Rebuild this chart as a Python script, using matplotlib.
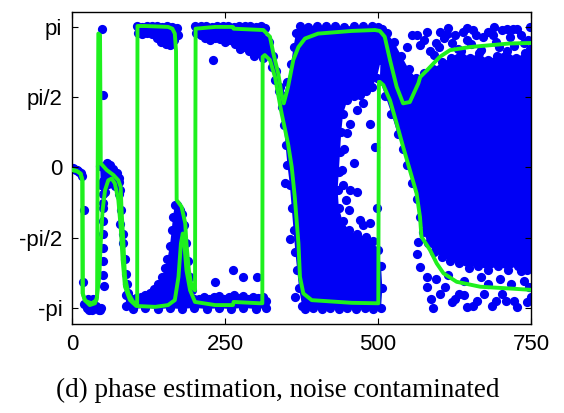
import numpy as np
import matplotlib
matplotlib.use("Agg")
import matplotlib.pyplot as plt

# ---- estimated phase tracks ----
est_a_t = [0, 7.6, 14, 17, 17.5, 21, 29, 37.6, 41, 43, 45.8, 47, 56.7, 67.5, 75.7, 79.5,
           81, 84, 86.6, 92, 100, 106.5, 107, 119, 157, 164, 168, 170, 171, 179, 185, 187,
           191, 195.5, 201, 202, 234, 263, 264, 312.6, 323.5, 329, 337, 342.6, 346, 353,
           361.6, 370, 380.7, 402, 457, 495, 503, 511, 519.6, 530.5, 541, 552, 566, 569,
           580, 601, 617.6, 650, 683, 716, 750]
est_a_y = [-0.06, -0.08, -0.14, -0.29, -2.82, -2.97, -3.08, -3.04, -2.90, 2.99, 2.96, 0.09,
           -0.06, -0.17, -0.29, -0.44, -0.96, -1.70, -2.45, -2.82, -3.01, -3.05, 3.16, 3.16,
           3.14, 3.10, 2.99, 2.60, -0.73, -0.88, -1.25, -1.70, -2.30, -2.67, -2.75, 3.10,
           3.14, 3.14, 3.10, 3.07, 2.92, 2.55, 2.10, 1.62, 1.43, 1.80, 2.40, 2.69, 2.88,
           2.99, 3.05, 3.07, 3.05, 2.92, 2.40, 1.80, 1.43, 1.46, 1.88, 2.02, 2.17, 2.47,
           2.62, 2.69, 2.73, 2.77, 2.78]

est_b_t = [0, 7.6, 14, 17, 17.5, 21, 24, 32, 40, 44.6, 46.9, 50, 54, 59.3, 64.8, 70, 75.7,
           79.5, 82.8, 86.6, 94.8, 105, 136, 157, 168, 174, 178, 181, 183.5, 187, 193, 201,
           234, 263, 264, 307, 311, 311.5, 315, 323.5, 331.7, 342.6, 353, 359, 364, 370,
           372.5, 378, 391.7, 457, 500.5, 501.5, 503, 508.7, 519.6, 530.5, 541, 552, 563,
           568.6, 571, 585, 596, 607, 628.6, 667, 716, 750]
est_b_y = [-0.06, -0.08, -0.14, -0.29, -2.82, -2.97, -3.0, -3.04, -2.97, -2.45, -1.70,
           -0.96, -0.51, -0.29, -0.25, -0.36, -0.73, -1.33, -2.08, -2.67, -2.97, -3.10,
           -3.12, -3.08, -2.97, -2.45, -1.70, -1.48, -1.70, -2.30, -2.75, -3.01, -3.08,
           -3.08, -3.01, -3.04, -3.04, 2.47, 2.51, 2.40, 2.02, 1.20, 0.53, 0.01, -0.66,
           -1.70, -2.45, -2.82, -2.97, -3.03, -3.04, 1.91, 1.91, 1.84, 1.50, 0.98, 0.46,
           -0.06, -0.58, -1.11, -1.55, -1.85, -2.15, -2.37, -2.56, -2.67, -2.71, -2.74]

# ---- dense clouds of noisy samples: outlines (t, phase) ----
cloud_hump_t = [46, 52, 58, 64, 70, 76, 79, 76, 71, 65, 59, 54, 50, 47]
cloud_hump_y = [0.02, -0.02, -0.06, -0.12, -0.2, -0.32, -0.5, -0.6, -0.42, -0.35, -0.38,
                -0.55, -0.8, -0.4]

cloud_top1_t = [107, 115, 123, 131, 139, 147, 155, 163, 171, 173, 166, 160, 153, 146,
                139, 131, 123, 115, 108]
cloud_top1_y = [3.16, 3.14, 3.17, 3.15, 3.16, 3.14, 3.17, 3.14, 3.12, 2.95, 2.85, 2.75,
                2.75, 2.8, 2.9, 2.98, 3.0, 2.98, 3.0]

cloud_top2_t = [201, 210, 219, 228, 237, 246, 255, 264, 273, 282, 291, 300, 309, 316,
                318, 312, 305, 298, 290, 282, 274, 266, 258, 250, 242, 234, 226, 218, 210,
                203]
cloud_top2_y = [3.16, 3.15, 3.17, 3.14, 3.16, 3.15, 3.17, 3.14, 3.16, 3.15, 3.17, 3.14,
                3.16, 3.12, 2.65, 2.45, 2.55, 2.5, 2.6, 2.7, 2.65, 2.75, 2.85, 2.8, 2.88,
                2.9, 2.85, 2.9, 2.95, 3.0]

cloud_bot1_t = [88, 96, 104, 112, 120, 127, 134, 141, 147, 152, 156, 160, 163, 165, 168,
                172, 176, 180, 183, 186, 189, 192, 196, 200, 208, 216, 224, 232, 240, 248,
                256, 264, 272, 280, 288, 296, 304, 312, 317, 317, 300, 280, 260, 240, 220,
                200, 180, 160, 140, 120, 100, 88]
cloud_bot1_y = [-2.85, -2.95, -2.92, -2.9, -2.85, -2.8, -2.72, -2.62, -2.45, -2.25, -2.05,
                -1.75, -1.4, -1.1, -0.85, -0.85, -0.95, -1.05, -1.3, -1.7, -2.1, -2.45,
                -2.75, -2.95, -2.95, -2.9, -2.95, -2.9, -2.88, -2.95, -2.9, -2.85, -2.92,
                -2.88, -2.95, -2.9, -2.92, -2.9, -3.0, -3.15, -3.17, -3.14, -3.17, -3.15,
                -3.17, -3.14, -3.17, -3.15, -3.17, -3.14, -3.17, -3.1]

cloud_mid_t = [372, 385, 400, 415, 430, 445, 460, 475, 490, 500, 506,
               508, 505, 498, 490, 480, 470, 460, 450, 443, 440, 438, 436, 434, 436, 442,
               452, 466, 480, 492, 500, 505, 507, 505,
               492, 478, 464, 450, 436, 422, 408, 394, 380,
               376, 371, 368, 365, 362, 359, 356, 352, 349, 346, 343, 338, 332, 326, 320,
               316, 322, 328, 334, 340, 346, 352, 358, 362, 366]
cloud_mid_y = [3.16, 3.14, 3.17, 3.15, 3.16, 3.14, 3.17, 3.15, 3.16, 3.14, 3.05,
               2.8, 2.4, 2.0, 1.8, 1.7, 1.62, 1.6, 1.5, 1.2, 0.8, 0.35, -0.1, -0.5, -0.9,
               -1.2, -1.4, -1.5, -1.55, -1.65, -1.85, -2.2, -2.7, -3.15,
               -3.17, -3.14, -3.17, -3.15, -3.17, -3.14, -3.17, -3.15, -3.16,
               -3.1, -2.7, -2.3, -1.9, -1.4, -0.9, -0.4, 0.05, 0.5, 0.95, 1.35, 1.7, 1.95,
               2.25, 2.55, 2.85, 2.8, 2.5, 2.15, 1.8, 1.6, 1.9, 2.3, 2.7, 3.0]

cloud_right_t = [503, 512, 522, 532, 541, 548, 556, 563, 568, 574, 582, 592, 604, 618,
                 632, 648, 664, 680, 696, 712, 728, 744, 750, 750, 740, 725, 710, 695,
                 680, 665, 650, 635, 620, 605, 590, 575, 562, 550, 538, 526, 515, 506]
cloud_right_y = [1.95, 1.6, 1.2, 0.75, 0.4, 0.05, -0.35, -0.7, -1.1, -1.45, -1.7, -1.9,
                 -2.0, -2.1, -2.15, -2.25, -2.2, -2.3, -2.2, -2.3, -2.2, -2.3, -2.25,
                 2.6, 2.55, 2.45, 2.6, 2.5, 2.4, 2.55, 2.45, 2.6, 2.45, 2.35, 2.2, 2.1,
                 2.0, 2.2, 2.5, 2.8, 3.0, 3.1]

# ---- isolated samples ----
dots_t = [0, 2, 4, 6, 8, 10, 12, 14, 16, 19, 18.5, 20, 24, 28, 32, 36, 40, 44, 26, 34,
          48.5, 50, 50, 50, 51, 51, 51, 51, 51, 51, 52, 47, 45,
          56.7, 62, 67.5, 73, 77, 80, 79, 84, 83, 86, 88.5, 90, 92, 97,
          231, 263.6, 233.7, 301.8, 280, 155, 160,
          449, 454.6, 465.5, 476, 487, 445, 441, 443, 448, 455, 466, 452, 470.6, 487,
          476, 460, 495, 498, 356, 364, 348,
          563, 580, 601, 613, 639, 656, 680, 703, 727, 749, 569, 595, 592, 621, 645, 671,
          692, 715, 738, 548, 556, 575, 585, 600, 608, 625, 630, 652, 660, 668, 688, 698,
          710, 722, 734, 745, 748, 615, 645, 690, 720,
          566, 563, 569, 580, 580, 586, 601, 621, 645, 662, 686, 709, 727, 744, 747, 733,
          610, 633, 674, 703, 595, 615, 625, 640, 655, 668, 680, 692, 700, 718, 722, 738,
          750, 590, 640]
dots_y = [-0.03, -0.02, -0.04, -0.05, -0.06, -0.08, -0.1, -0.13, -0.2, -0.96, -2.56,
          -3.05, -3.15, -3.2, -3.18, -3.15, -3.1, -3.2, -2.95, -2.95,
          3.1, 1.61, -0.3, -0.6, -0.9, -1.2, -1.5, -1.8, -2.1, -2.4, -2.65, -3.15, -3.2,
          0.09, 0.05, -0.03, -0.13, -0.24, -0.96, -1.26, -1.48, -1.7, -2.04, -2.38, -2.6,
          -2.82, -2.97,
          2.40, -2.30, -2.56, -2.45, -2.45, 2.77, 2.73,
          0.76, 0.98, 1.28, 1.43, 0.98, 0.4, -0.06, -0.4, -0.73, -0.5, -0.55, -0.96,
          -1.18, -1.25, -1.3, 0.1, 0.45, -0.9, -1.6, -2.9, -0.35,
          2.96, 3.03, 3.03, 2.99, 3.03, 3.07, 3.03, 3.07, 3.10, 3.14, 2.73, 2.77, 2.51,
          2.77, 2.84, 2.92, 2.81, 2.92, 2.77, 2.7, 2.95, 2.85, 2.6, 2.7, 2.9, 2.95, 2.65,
          2.75, 2.95, 2.62, 2.95, 2.7, 3.1, 2.72, 2.95, 2.85, 2.65, 3.12, 3.12, 3.14, 3.1,
          -1.67, -1.93, -2.23, -2.46, -2.68, -2.94, -2.83, -3.01, -3.13, -2.98, -3.09,
          -2.98, -3.13, -3.01, -2.68, -2.31, -2.68, -2.83, -2.83, -2.83, -2.5, -2.4,
          -2.95, -2.55, -3.1, -2.45, -2.6, -3.0, -2.5, -2.6, -3.0, -2.55, -2.9, -3.15,
          -2.85]

clouds = [(cloud_hump_t, cloud_hump_y), (cloud_top1_t, cloud_top1_y),
          (cloud_top2_t, cloud_top2_y), (cloud_bot1_t, cloud_bot1_y),
          (cloud_mid_t, cloud_mid_y), (cloud_right_t, cloud_right_y)]

x_ticks = [0, 250, 500, 750]
y_ticks = [-np.pi, -np.pi / 2, 0, np.pi / 2, np.pi]
y_labels = ['-pi', '-pi/2', '0', 'pi/2', 'pi']

blue = '#0000f5'
green = '#1ef01e'
dot_size = 44

fig = plt.figure(figsize=(5.64, 4.13), dpi=100)
ax = fig.add_axes([72 / 564, 1 - 324.3 / 413, (531 - 72) / 564, (324.3 - 11.7) / 413])

# dense regions: filled outline plus a dot at every outline vertex
for ct, cy in clouds:
    ax.fill(ct, cy, color=blue, lw=0, zorder=1)
    ax.scatter(ct, cy, s=dot_size, color=blue, lw=0, zorder=1)
ax.scatter(dots_t, dots_y, s=dot_size, color=blue, lw=0, zorder=1)

ax.plot(est_a_t, est_a_y, color=green, lw=2.8, zorder=3)
ax.plot(est_b_t, est_b_y, color=green, lw=2.8, zorder=3)

ax.set_xlim(0, 750)
ax.set_ylim(-3.51, 3.48)
ax.set_xticks(x_ticks)
ax.set_xticklabels([str(v) for v in x_ticks])
ax.set_yticks(y_ticks)
ax.set_yticklabels(y_labels)
ax.tick_params(direction='in', top=True, right=True, length=4, width=0.8,
               labelsize=16, pad=7)
for lab in ax.get_xticklabels() + ax.get_yticklabels():
    lab.set_family('Liberation Sans')
for sp in ax.spines.values():
    sp.set_linewidth(1.0)

fig.text(278 / 564, 1 - 390 / 413, '(d) phase estimation, noise contaminated',
         ha='center', va='center', fontsize=19.5, family='Liberation Serif')

fig.savefig('out.png', dpi=100, facecolor='white')
